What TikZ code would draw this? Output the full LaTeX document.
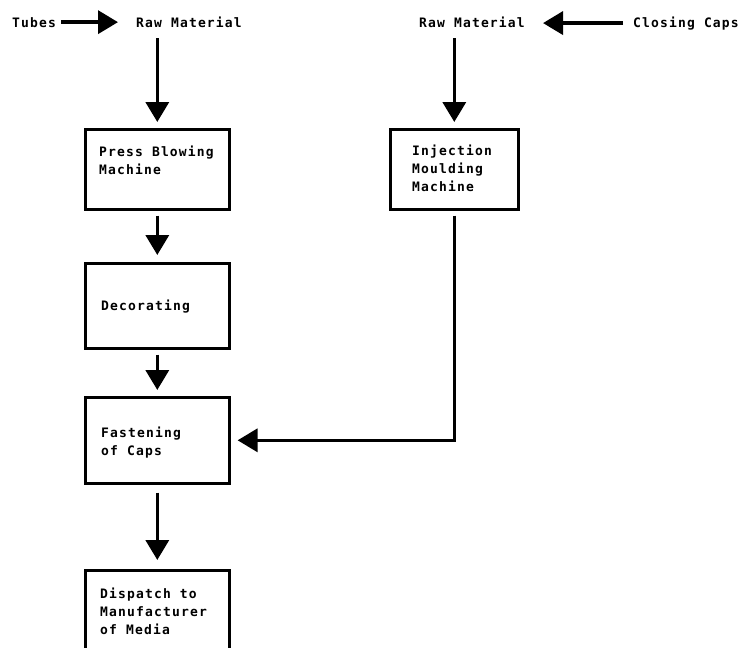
\documentclass[tikz,border=0pt]{standalone}
\usepackage{fontspec}
\newfontfamily\flowfont[LetterSpace=9]{DejaVu Sans Mono Bold}
\usetikzlibrary{arrows.meta,calc}

\begin{document}
\begin{tikzpicture}[x=1pt,y=-1pt,
  stagebox/.style={draw, line width=2.6pt, anchor=north west, inner sep=0pt,
    minimum width=#1},
  txt/.style={font=\flowfont\fontsize{13}{18}\selectfont, anchor=base west,
    inner sep=0pt, align=left},
  flow/.style={line width=3.6pt, -{Triangle[width=23pt,length=20pt]}}]

\useasboundingbox (0,0) rectangle (740,648);
\clip (0,0) rectangle (740,648);

% inputs along the top
\node[txt] (tubes) at (12,27) {Tubes};
\node[txt] (raw1)  at (136,27) {Raw Material};
\node[txt] (raw2)  at (419,27) {Raw Material};
\node[txt] (caps)  at (633,27) {Closing Caps};

% process stages
\node[stagebox=144pt, minimum height=80pt]  (press)  at (84,128) {};
\node[stagebox=128pt, minimum height=80pt]  (inject) at (389,128) {};
\node[stagebox=144pt, minimum height=85pt]  (deco)   at (84,262) {};
\node[stagebox=144pt, minimum height=86pt]  (fasten) at (84,396) {};
\node[stagebox=144pt, minimum height=110pt] (disp)   at (84,569) {};

% stage captions (base anchor sits on the last line)
\node[txt] (tpress)  at (99,174)  {Press Blowing\\Machine};
\node[txt] (tinject) at (412,191) {Injection\\Moulding\\Machine};
\node[txt] (tdeco)   at (101,310) {Decorating};
\node[txt] (tfasten) at (101,455) {Fastening\\of Caps};
\node[txt] (tdisp)   at (100,634) {Dispatch to\\Manufacturer\\of Media};

% material flow
\draw[flow, shorten <=5pt, shorten >=18pt] (tubes.east) -- (tubes.east -| raw1.west);
\draw[flow, shorten <=10pt, shorten >=18pt] (caps.west) -- (caps.west -| raw2.east);
\draw[flow, shorten >=6pt] (press.north |- 0,38) -- (press.north);
\draw[flow, shorten >=6pt] (inject.north |- 0,38) -- (inject.north);
\draw[flow, shorten <=5pt, shorten >=7pt] (press.south) -- (deco.north);
\draw[flow, shorten <=5pt, shorten >=6pt] (deco.south) -- (fasten.north);
\draw[flow, shorten <=8pt, shorten >=9pt] (fasten.south) -- (disp.north);
\draw[flow, shorten <=5pt, shorten >=7pt] (inject.south) -- (inject.south |- fasten.east) -- (fasten.east);
\end{tikzpicture}
\end{document}
